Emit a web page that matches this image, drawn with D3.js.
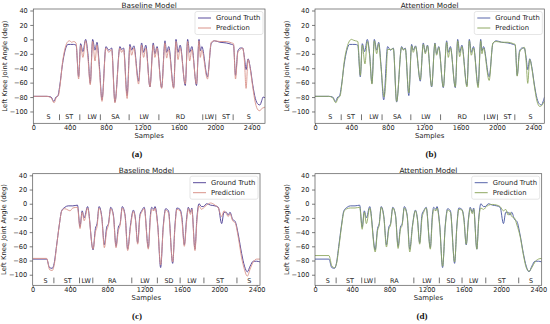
<!DOCTYPE html>
<html>
<head>
<meta charset="utf-8">
<script src="https://cdn.jsdelivr.net/npm/d3@7"></script>
<style>
  body { margin: 0; background: #fff; }
  text { font-family: "DejaVu Sans", sans-serif; }
</style>
</head>
<body>
<div id="chart"></div>
<script>
// ---- data: [sample, knee angle in deg] ----

// ground truth of the first trial (panels a and b)
const truthTop = [[0,-79],[150,-79],[195,-80],[225,-86],[250,-80],[268,-79],[290,-65],[320,-35],[350,-15],[380,-7],[410,-7],[440,-7],[470,-8],[498,-52],[520,-6],[545,-17],[575,0],[600,-20],[626,-61],[652,0],[678,-15],[700,-4],[725,-35],[755,-84],[798,-10],[830,-15],[861,-12],[897,-87],[952,-10],[970,-14],[992,-12],[1031,-78],[1062,-7],[1080,-15],[1105,-9],[1157,-58],[1190,-5],[1212,-18],[1236,-8],[1282,-66],[1318,-5],[1336,-20],[1360,-10],[1410,-67],[1447,-2],[1465,-18],[1488,-10],[1542,-67],[1568,0],[1590,-18],[1614,-8],[1670,-64],[1696,0],[1718,-18],[1742,-10],[1793,-64],[1821,0],[1835,-16],[1852,-10],[1914,-52],[1955,-6],[1990,-2],[2050,-4],[2120,-5],[2180,-7],[2200,-8],[2222,-50],[2248,-16],[2275,-12],[2300,-12],[2320,-25],[2338,-42],[2360,-27],[2385,-40],[2410,-62],[2440,-82],[2470,-90],[2490,-91],[2510,-85],[2525,-80],[2545,-81]]

// baseline prediction, panel a
const predA = [[0,-79],[150,-79],[195,-81],[228,-88],[255,-80],[275,-78],[295,-63],[320,-33],[350,-12],[380,-3],[400,-2],[420,-4],[445,-3],[470,-5],[498,-55],[520,-8],[545,-25],[575,-2],[600,-25],[626,-63],[652,-3],[678,-30],[700,-8],[725,-40],[755,-86],[798,-12],[830,-18],[861,-14],[897,-88],[952,-12],[970,-18],[992,-14],[1031,-82],[1062,-10],[1080,-22],[1105,-12],[1157,-62],[1190,-8],[1212,-25],[1236,-12],[1282,-66],[1318,-8],[1336,-25],[1360,-12],[1410,-68],[1447,-5],[1465,-26],[1488,-14],[1542,-68],[1568,-3],[1590,-28],[1614,-12],[1670,-62],[1696,-3],[1718,-30],[1742,-14],[1793,-62],[1821,-2],[1835,-25],[1852,-15],[1914,-55],[1955,-4],[1990,-2],[2050,-3],[2120,-3],[2180,-5],[2200,-6],[2222,-55],[2248,-18],[2275,-14],[2300,-12],[2320,-30],[2338,-68],[2360,-28],[2385,-42],[2410,-65],[2440,-88],[2470,-98],[2490,-99],[2510,-96],[2525,-95],[2545,-94]]

// attention prediction, panel b
const predB = [[0,-79],[150,-79],[195,-81],[228,-88],[255,-81],[275,-79],[295,-62],[320,-32],[350,-12],[380,-2],[400,0],[420,-1],[445,-2],[470,-3],[498,-50],[520,-8],[549,-34],[575,-3],[600,-22],[626,-62],[652,-2],[678,-20],[700,-6],[725,-38],[760,-80],[780,-55],[798,-14],[830,-14],[861,-13],[897,-86],[952,-11],[970,-15],[992,-13],[1031,-74],[1062,-9],[1080,-18],[1105,-10],[1157,-56],[1190,-7],[1212,-20],[1236,-9],[1282,-65],[1318,-6],[1336,-22],[1360,-11],[1410,-66],[1447,-4],[1465,-25],[1488,-12],[1542,-66],[1568,-2],[1590,-24],[1614,-10],[1670,-66],[1696,-2],[1718,-22],[1742,-12],[1793,-67],[1821,-2],[1835,-20],[1852,-12],[1914,-57],[1955,-5],[1990,-3],[2050,-4],[2120,-4],[2180,-6],[2200,-7],[2222,-51],[2248,-18],[2275,-13],[2300,-11],[2320,-30],[2338,-61],[2360,-28],[2385,-42],[2410,-64],[2440,-86],[2470,-93],[2490,-92],[2510,-88],[2525,-86],[2545,-86]]

// ground truth of the second trial (panels c and d)
const truthBottom = [[0,-78],[150,-78],[180,-90],[210,-91],[230,-84],[255,-60],[285,-30],[310,-10],[345,-5],[380,-3],[430,-3],[480,-2],[507,-33],[530,-10],[552,-20],[588,-4],[647,-65],[672,-35],[690,-28],[711,-4],[740,-18],[768,-58],[793,-33],[812,-28],[836,-5],[865,-16],[893,-60],[918,-33],[937,-28],[960,-4],[990,-16],[1018,-64],[1048,-30],[1079,-9],[1100,-20],[1125,-55],[1150,-15],[1168,-10],[1195,-5],[1239,-62],[1262,-15],[1275,-5],[1300,-8],[1311,-4],[1340,-30],[1371,-90],[1400,-30],[1425,-7],[1455,-10],[1500,-84],[1525,-30],[1545,-6],[1579,-8],[1600,-20],[1625,-58],[1650,-20],[1668,-5],[1690,-12],[1705,-6],[1739,-64],[1760,-20],[1782,0],[1810,-4],[1829,-4],[1864,0],[1907,-2],[1954,-3],[1989,-5],[2025,-28],[2050,-12],[2075,-12],[2096,-16],[2114,-12],[2143,-22],[2170,-25],[2204,-44],[2239,-70],[2270,-88],[2300,-96],[2330,-88],[2364,-81],[2400,-81],[2435,-82]]

// baseline prediction, panel c
const predC = [[0,-77],[150,-77],[182,-93],[210,-94],[232,-85],[258,-58],[287,-28],[312,-10],[345,-7],[380,-9],[400,-10],[430,-6],[480,-5],[507,-35],[530,-12],[552,-24],[588,-6],[647,-64],[672,-40],[690,-32],[711,-6],[740,-20],[768,-62],[793,-38],[812,-30],[836,-7],[865,-18],[893,-62],[918,-38],[937,-30],[960,-6],[990,-18],[1018,-66],[1048,-33],[1079,-11],[1100,-22],[1125,-57],[1150,-18],[1168,-12],[1195,-7],[1239,-64],[1262,-20],[1275,-8],[1300,-10],[1311,-6],[1340,-32],[1371,-86],[1400,-33],[1425,-9],[1455,-13],[1500,-82],[1525,-33],[1545,-8],[1579,-10],[1600,-25],[1625,-60],[1650,-24],[1668,-7],[1690,-15],[1705,-8],[1739,-66],[1760,-24],[1782,-3],[1810,-8],[1829,-6],[1864,-2],[1907,1],[1954,-2],[1989,-6],[2025,-18],[2050,-10],[2075,-14],[2096,-18],[2114,-14],[2143,-24],[2170,-27],[2204,-48],[2239,-76],[2270,-93],[2300,-102],[2330,-92],[2364,-82],[2400,-78],[2435,-78]]

// attention prediction, panel d
const predD = [[0,-73],[150,-73],[182,-88],[210,-90],[232,-84],[258,-60],[287,-30],[312,-11],[345,-7],[380,-6],[430,-6],[480,-5],[507,-36],[530,-12],[552,-28],[588,-6],[647,-68],[672,-38],[690,-30],[711,-5],[740,-20],[768,-61],[793,-36],[812,-30],[836,-6],[865,-17],[893,-63],[918,-36],[937,-30],[960,-6],[990,-17],[1018,-68],[1048,-32],[1079,-10],[1100,-22],[1125,-57],[1150,-20],[1168,-12],[1195,-6],[1239,-64],[1262,-20],[1275,-8],[1300,-10],[1311,-6],[1340,-32],[1371,-88],[1400,-32],[1425,-9],[1455,-12],[1500,-82],[1525,-32],[1545,-8],[1579,-9],[1600,-23],[1625,-57],[1650,-22],[1668,-7],[1690,-14],[1705,-8],[1739,-64],[1760,-22],[1782,-6],[1810,-8],[1829,-6],[1864,-2],[1907,-1],[1954,-2],[1989,-4],[2025,-10],[2050,-8],[2075,-16],[2096,-12],[2114,-18],[2143,-20],[2170,-30],[2204,-46],[2239,-72],[2270,-90],[2300,-95],[2330,-90],[2364,-82],[2400,-78],[2435,-77]]

// activity segments along the bottom of each plot
const segNamesTop = ['S', 'ST', 'LW', 'SA', 'LW', 'RD', 'LW', 'ST', 'S']
const segCentersTop = [167, 394, 647, 903, 1218, 1618, 1935, 2116, 2368]
const segBordersTop = [288, 511, 737, 1053, 1380, 1862, 2005, 2196]

const segNamesBottom = ['S', 'ST', 'LW', 'RA', 'LW', 'SD', 'LW', 'ST', 'S']
const segCentersBottom = [138, 375, 574, 852, 1203, 1460, 1706, 2006, 2322]
const segBordersBottom = [227, 502, 644, 1062, 1336, 1580, 1835, 2189]

const xTicks = [0, 400, 800, 1200, 1600, 2000, 2400]
const yTicks = [-100, -80, -60, -40, -20, 0, 20, 40]
const seriesNames = ['Ground Truth', 'Prediction']

// ---- layout ----
const svg = d3.select('#chart')
   .append('svg')
      .attr('width', 550)
      .attr('height', 324)
      .style('background', '#fff')

const panels = [
   { id: 'a', left: 33.3, right: 265, top: 9, bottom: 123.3, xMax: 2546, yDomain: [-116.4, 42.1],
     title: 'Baseline Model', truth: truthTop, pred: predA, cTruth: '#5a4c9c', cPred: '#d9938a',
     names: segNamesTop, centers: segCentersTop, borders: segBordersTop, capX: 137, capY: 154 },
   { id: 'b', left: 315, right: 544.3, top: 9, bottom: 123.3, xMax: 2520, yDomain: [-116.4, 42.1],
     title: 'Attention Model', truth: truthTop, pred: predB, cTruth: '#5866aa', cPred: '#8fa862',
     names: segNamesTop, centers: segCentersTop, borders: segBordersTop, capX: 431, capY: 154 },
   { id: 'c', left: 32.7, right: 260, top: 173.7, bottom: 285.3, xMax: 2436, yDomain: [-114.9, 42.3],
     title: 'Baseline Model', truth: truthBottom, pred: predC, cTruth: '#5a4c9c', cPred: '#d9938a',
     names: segNamesBottom, centers: segCentersBottom, borders: segBordersBottom, capX: 137, capY: 316 },
   { id: 'd', left: 315, right: 541.7, top: 173.7, bottom: 285.3, xMax: 2436, yDomain: [-114.9, 42.3],
     title: 'Attention Model', truth: truthBottom, pred: predD, cTruth: '#5866aa', cPred: '#8fa862',
     names: segNamesBottom, centers: segCentersBottom, borders: segBordersBottom, capX: 422, capY: 316 }
]

panels.forEach(drawPanel)

function drawPanel(p) {
   let width = p.right - p.left
   let height = p.bottom - p.top

   let g = svg.append('g')
      .attr('transform', 'translate(' + p.left + ',' + p.top + ')')

   let xScale = d3.scaleLinear().domain([0, p.xMax]).range([0, width])
   let yScale = d3.scaleLinear().domain(p.yDomain).range([height, 0])

   // clip the traces to the plot box
   g.append('clipPath')
      .attr('id', 'clip-' + p.id)
      .append('rect')
         .attr('width', width)
         .attr('height', height)

   let line = d3.line()
      .x(d => xScale(d[0]))
      .y(d => yScale(d[1]))
      .curve(d3.curveMonotoneX)

   // ground truth first, prediction on top
   g.append('path')
      .datum(p.truth)
      .attr('clip-path', 'url(#clip-' + p.id + ')')
      .attr('fill', 'none')
      .attr('stroke', p.cTruth)
      .attr('stroke-width', 1)
      .attr('d', line)

   g.append('path')
      .datum(p.pred)
      .attr('clip-path', 'url(#clip-' + p.id + ')')
      .attr('fill', 'none')
      .attr('stroke', p.cPred)
      .attr('stroke-width', 0.9)
      .attr('d', line)

   // axes
   let xAxis = g.append('g')
      .attr('transform', 'translate(0,' + height + ')')
      .call(d3.axisBottom(xScale).tickValues(xTicks).tickSize(2).tickPadding(0)
         .tickFormat(d3.format('d')))
   let yAxis = g.append('g')
      .call(d3.axisLeft(yScale).tickValues(yTicks).tickSize(3).tickPadding(2.5)
         .tickFormat(d => d < 0 ? '\u2212' + Math.abs(d) : d))

   ;[xAxis, yAxis].forEach(ax => {
      ax.select('.domain').remove()
      ax.selectAll('line').attr('stroke', '#444').attr('stroke-width', 0.7)
      ax.selectAll('text')
         .style('font-family', '"DejaVu Sans", sans-serif')
         .style('font-size', '6.6px')
         .attr('fill', '#222')
   })

   // plot frame
   g.append('rect')
      .attr('width', width)
      .attr('height', height)
      .attr('fill', 'none')
      .attr('stroke', '#555')
      .attr('stroke-width', 0.7)

   // activity labels and borders
   g.selectAll('.seg')
         .data(p.names)
      .enter().append('text')
         .attr('class', 'seg')
         .attr('x', (d, i) => xScale(p.centers[i]))
         .attr('y', yScale(-108))
         .attr('dy', '0.35em')
         .attr('text-anchor', 'middle')
         .style('font-size', '6.4px')
         .attr('fill', '#222')
         .text(d => d)

   g.selectAll('.border')
         .data(p.borders)
      .enter().append('line')
         .attr('class', 'border')
         .attr('x1', d => xScale(d))
         .attr('x2', d => xScale(d))
         .attr('y1', yScale(-104))
         .attr('y2', yScale(-112))
         .attr('stroke', '#333')
         .attr('stroke-width', 0.7)

   // title and axis labels
   g.append('text')
      .attr('x', width / 2)
      .attr('y', -1.2)
      .attr('text-anchor', 'middle')
      .style('font-size', '7.3px')
      .attr('fill', '#222')
      .text(p.title)

   g.append('text')
      .attr('x', width / 2)
      .attr('y', height + 14.8)
      .attr('text-anchor', 'middle')
      .style('font-size', '6.9px')
      .attr('fill', '#222')
      .text('Samples')

   g.append('text')
      .attr('transform', 'translate(-26.5,' + (height / 2) + ') rotate(-90)')
      .attr('text-anchor', 'middle')
      .style('font-size', '6.8px')
      .attr('fill', '#222')
      .text('Left Knee Joint Angle (deg)')

   // legend
   let lg = g.append('g')
      .attr('transform', 'translate(' + (width - 70) + ',2.5)')
   lg.append('rect')
      .attr('width', 68)
      .attr('height', 23)
      .attr('rx', 2)
      .attr('fill', '#fff')
      .attr('fill-opacity', 0.85)
      .attr('stroke', '#d5d5d5')
      .attr('stroke-width', 0.6)
   lg.selectAll('.lgline')
         .data(seriesNames)
      .enter().append('line')
         .attr('x1', 3)
         .attr('x2', 16)
         .attr('y1', (d, i) => 6.5 + i * 10)
         .attr('y2', (d, i) => 6.5 + i * 10)
         .attr('stroke', (d, i) => i === 0 ? p.cTruth : p.cPred)
         .attr('stroke-width', 1)
   lg.selectAll('.lgtext')
         .data(seriesNames)
      .enter().append('text')
         .attr('x', 21)
         .attr('y', (d, i) => 6.5 + i * 10)
         .attr('dy', '0.35em')
         .style('font-size', '6.8px')
         .attr('fill', '#222')
         .text(d => d)

   // panel caption
   svg.append('text')
      .attr('x', p.capX)
      .attr('y', p.capY)
      .attr('dy', '0.35em')
      .attr('text-anchor', 'middle')
      .style('font-family', '"Liberation Serif", "DejaVu Serif", serif')
      .style('font-weight', 'bold')
      .style('font-size', '9px')
      .attr('fill', '#111')
      .text('(' + p.id + ')')
}
</script>
</body>
</html>
